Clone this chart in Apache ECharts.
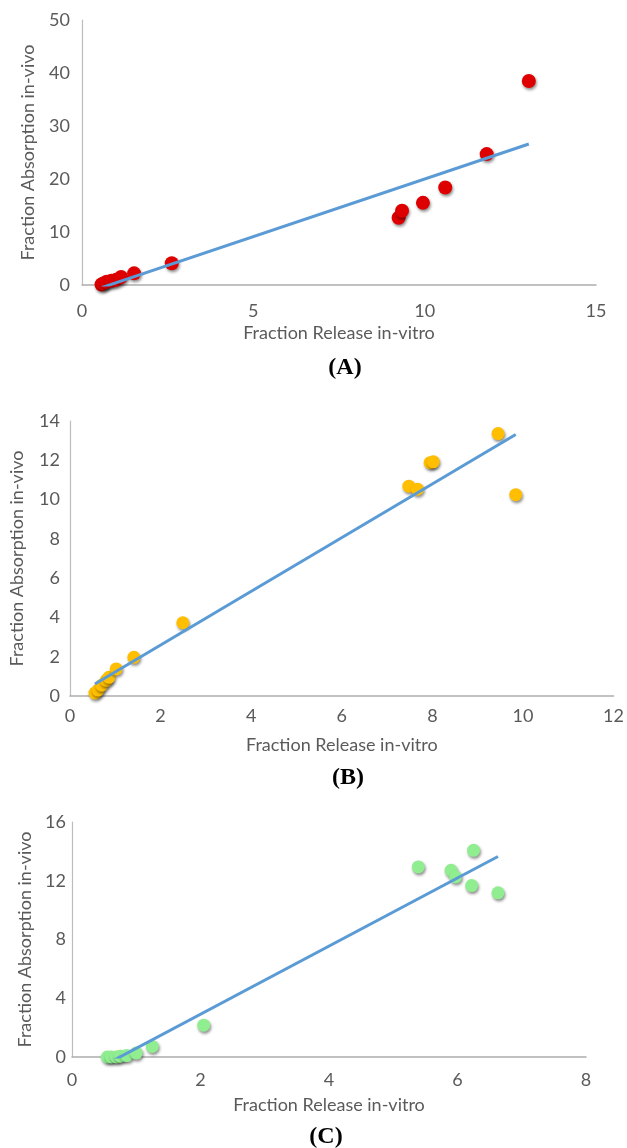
<!DOCTYPE html>
<html>
<head>
<meta charset="utf-8">
<script src="https://cdn.jsdelivr.net/npm/echarts@6/dist/echarts.min.js"></script>
<style>
  html, body { margin: 0; padding: 0; background: #ffffff; }
  #chart { width: 627px; height: 1148px; }
</style>
</head>
<body>
<div id="chart"></div>
<script>
// Panel A: fraction released in vitro vs fraction absorbed in vivo
const releaseA    = [0.57, 0.62, 0.72, 0.86, 1.00, 1.14, 1.52, 2.62, 9.24, 9.34, 9.95, 10.60, 11.81, 13.04];
const absorptionA = [0.10, 0.30, 0.60, 0.80, 1.00, 1.50, 2.20, 4.10, 12.70, 14.00, 15.50, 18.40, 24.70, 38.50];

// Panel B
const releaseB    = [0.55, 0.62, 0.70, 0.80, 0.86, 1.02, 1.41, 2.49, 7.48, 7.67, 7.95, 8.02, 9.45, 9.84];
const absorptionB = [0.15, 0.30, 0.55, 0.80, 0.95, 1.38, 1.97, 3.73, 10.68, 10.53, 11.88, 11.92, 13.36, 10.25];

// Panel C
const releaseC    = [0.55, 0.61, 0.69, 0.75, 0.85, 1.00, 1.25, 2.05, 5.39, 5.90, 5.97, 6.22, 6.25, 6.63];
const absorptionC = [0.00, 0.00, 0.00, 0.05, 0.10, 0.27, 0.72, 2.17, 12.94, 12.71, 12.26, 11.67, 14.07, 11.18];

// Axis ranges and tick steps
const xRangeA = [0, 15, 5];   const yRangeA = [0, 50, 10];
const xRangeB = [0, 12, 2];   const yRangeB = [0, 14, 2];
const xRangeC = [0, 8, 2];    const yRangeC = [0, 16, 4];

const panelLabels = ['(A)', '(B)', '(C)'];
const xAxisTitle = 'Fraction Release in-vitro';
const yAxisTitle = 'Fraction Absorption in-vivo';

// Least-squares trendline spanning the observed release range
function trendline(xs, ys) {
  const n = xs.length;
  const mx = xs.reduce((a, b) => a + b, 0) / n;
  const my = ys.reduce((a, b) => a + b, 0) / n;
  let sxy = 0, sxx = 0;
  for (let i = 0; i < n; i++) {
    sxy += (xs[i] - mx) * (ys[i] - my);
    sxx += (xs[i] - mx) * (xs[i] - mx);
  }
  const slope = sxy / sxx;
  const icpt = my - slope * mx;
  const x0 = Math.min(...xs), x1 = Math.max(...xs);
  return [[x0, slope * x0 + icpt], [x1, slope * x1 + icpt]];
}

const pairs = (xs, ys) => xs.map((x, i) => [x, ys[i]]);

const FONT = 'Lato';
const TEXT = '#5A5A5A';
const AXIS = '#ADADAD';
const FS = 18;

const panels = [
  { xs: releaseA, ys: absorptionA, xr: xRangeA, yr: yRangeA, color: '#DE0000', size: 14,
    grid: { left: 82, top: 20, width: 514, height: 265 },
    xLabelMargin: 17, xNameGap: 39, yLabelMargin: 12, yNameGap: 45, label: [345, 368] },
  { xs: releaseB, ys: absorptionB, xr: xRangeB, yr: yRangeB, color: '#FFBF00', size: 13,
    grid: { left: 69, top: 421, width: 548, height: 275 },
    xLabelMargin: 11, xNameGap: 40, yLabelMargin: 10, yNameGap: 44, label: [348, 778] },
  { xs: releaseC, ys: absorptionC, xr: xRangeC, yr: yRangeC, color: '#90EE90', size: 13,
    grid: { left: 72, top: 822, width: 514, height: 235 },
    xLabelMargin: 14, xNameGap: 39, yLabelMargin: 6, yNameGap: 30, label: [326, 1137] }
];

const option = {
  backgroundColor: '#ffffff',
  animation: false,
  grid: panels.map(p => p.grid),
  xAxis: panels.map((p, i) => ({
    type: 'value', gridIndex: i,
    min: p.xr[0], max: p.xr[1], interval: p.xr[2],
    name: xAxisTitle, nameLocation: 'middle', nameGap: p.xNameGap,
    nameTextStyle: { fontFamily: FONT, fontSize: FS, color: TEXT },
    axisLine: { show: true, onZero: false, lineStyle: { color: AXIS, width: 1.5 } },
    axisTick: { show: false },
    splitLine: { show: false },
    axisLabel: { fontFamily: FONT, fontSize: FS, color: TEXT, margin: p.xLabelMargin }
  })),
  yAxis: panels.map((p, i) => ({
    type: 'value', gridIndex: i,
    min: p.yr[0], max: p.yr[1], interval: p.yr[2],
    name: yAxisTitle, nameLocation: 'middle', nameGap: p.yNameGap,
    nameTextStyle: { fontFamily: FONT, fontSize: FS, color: TEXT },
    axisLine: { show: true, lineStyle: { color: '#BDBDBD', width: 1.2 } },
    axisTick: { show: false },
    splitLine: { show: false },
    axisLabel: { fontFamily: FONT, fontSize: FS, color: TEXT, margin: p.yLabelMargin }
  })),
  graphic: panels.map((p, i) => ({
    type: 'text', x: p.label[0], y: p.label[1],
    style: {
      text: panelLabels[i], fill: '#000000',
      font: 'bold 24px "Liberation Serif", "Times New Roman", serif',
      align: 'center', verticalAlign: 'middle'
    }
  })),
  series: []
};

panels.forEach((p, i) => {
  option.series.push({
    type: 'scatter', xAxisIndex: i, yAxisIndex: i,
    data: pairs(p.xs, p.ys),
    symbolSize: p.size, clip: false,
    itemStyle: {
      color: p.color, opacity: 1,
      shadowColor: 'rgba(0,0,0,0.45)', shadowBlur: 3, shadowOffsetX: 1, shadowOffsetY: 2
    },
    z: 2
  });
  option.series.push({
    type: 'line', xAxisIndex: i, yAxisIndex: i,
    data: trendline(p.xs, p.ys),
    showSymbol: false, symbol: 'none', clip: true,
    lineStyle: { color: '#5B9BD5', width: 3 },
    z: 3
  });
});

const chart = echarts.init(document.getElementById('chart'), null, { renderer: 'canvas' });
chart.setOption(option);
</script>
</body>
</html>
